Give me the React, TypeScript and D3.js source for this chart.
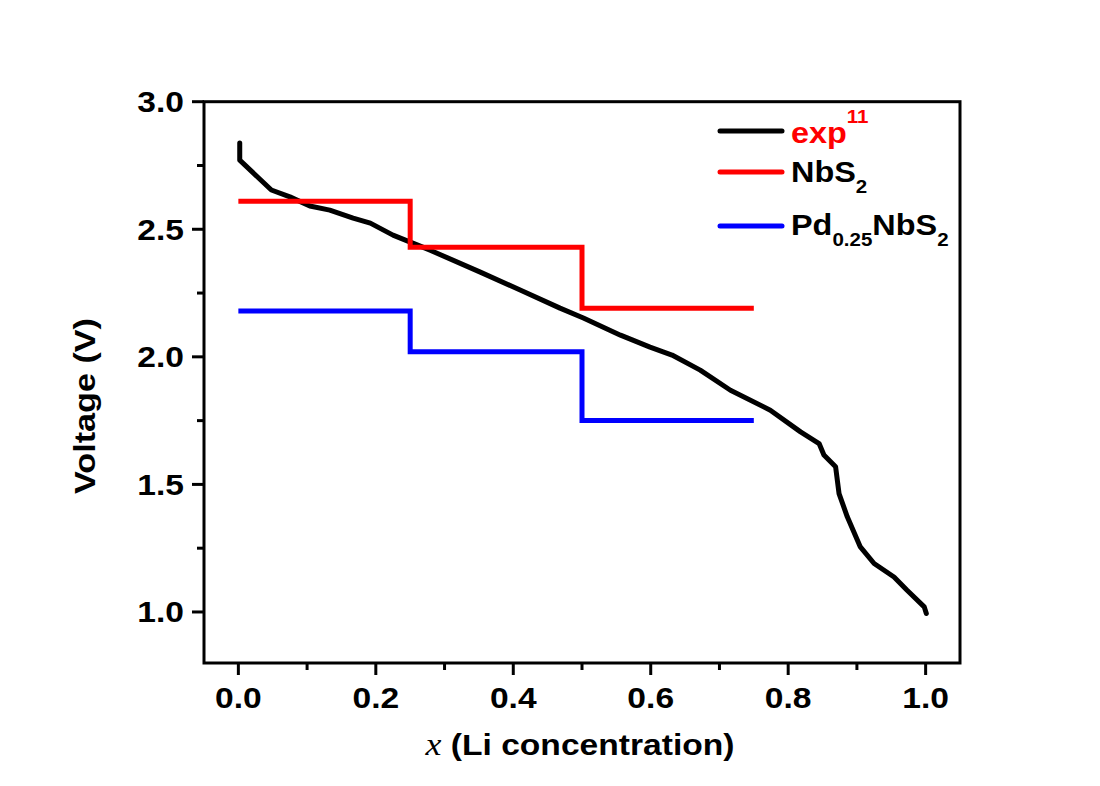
import React from 'react'
import * as d3 from 'd3'

// experimental curve (ref 11)
const expX = [0.002, 0.002, 0.048, 0.075, 0.104, 0.133, 0.167, 0.192, 0.225, 0.279, 0.352, 0.41, 0.468, 0.502, 0.556, 0.599, 0.631, 0.672, 0.716, 0.774, 0.818, 0.845, 0.852, 0.869, 0.874, 0.886, 0.905, 0.925, 0.954, 0.973, 0.998, 1.001]
const expV = [2.838, 2.771, 2.654, 2.627, 2.591, 2.575, 2.544, 2.524, 2.477, 2.418, 2.332, 2.262, 2.191, 2.152, 2.085, 2.038, 2.007, 1.948, 1.869, 1.791, 1.706, 1.66, 1.615, 1.569, 1.464, 1.373, 1.255, 1.19, 1.137, 1.085, 1.02, 0.994]

// calculated step voltages
const stepX = [0, 0.25, 0.5, 0.75]
const nbs2V = [2.61, 2.43, 2.19, 2.19]
const pdNbs2V = [2.18, 2.02, 1.75, 1.75]

const xTicks = [0, 0.2, 0.4, 0.6, 0.8, 1.0]
const yTicks = [1.0, 1.5, 2.0, 2.5, 3.0]

const W = 1100
const H = 786
const margin = { left: 204, right: 140, top: 101.7, bottom: 123 }
const font = 'Liberation Sans, Arial, sans-serif'
const SX = 1.12 // text in the original is a bit stretched sideways

export default function App() {
  const x = d3.scaleLinear().domain([-0.05, 1.05]).range([margin.left, W - margin.right])
  const y = d3.scaleLinear().domain([0.8, 3.0]).range([H - margin.bottom, margin.top])

  const line = d3.line<[number, number]>().x(d => x(d[0])).y(d => y(d[1]))
  const stepLine = d3.line<[number, number]>().x(d => x(d[0])).y(d => y(d[1])).curve(d3.curveStepAfter)

  const expPts = expX.map((v, i) => [v, expV[i]] as [number, number])
  const nbsPts = stepX.map((v, i) => [v, nbs2V[i]] as [number, number])
  const pdPts = stepX.map((v, i) => [v, pdNbs2V[i]] as [number, number])

  const xMinor = d3.range(0, 10).map(i => 0.1 + i * 0.2).filter(v => v < 1.05)
  const yMinor = d3.range(0, 9).map(i => 0.75 + i * 0.25).filter(v => v > 0.8 && v < 3 && v % 0.5 !== 0)

  const x0 = x.range()[0], x1 = x.range()[1]
  const y0 = y.range()[0], y1 = y.range()[1]

  const legend = [
    { color: '#000', y: 131 },
    { color: '#ff0000', y: 172 },
    { color: '#0000ff', y: 226 },
  ]

  return (
    <div style={{ position: 'absolute', left: 0, top: 0 }}>
      <svg width={W} height={H} style={{ display: 'block', background: '#fff' }}>
        {/* data */}
        <path d={line(expPts) || ''} fill="none" stroke="#000" strokeWidth={5} strokeLinejoin="round" strokeLinecap="round" />
        <path d={stepLine(nbsPts) || ''} fill="none" stroke="#ff0000" strokeWidth={5} />
        <path d={stepLine(pdPts) || ''} fill="none" stroke="#0000ff" strokeWidth={5} />

        {/* frame */}
        <rect x={x0} y={y1} width={x1 - x0} height={y0 - y1} fill="none" stroke="#000" strokeWidth={3} />

        {/* x ticks */}
        {xTicks.map(t => (
          <g key={'x' + t}>
            <line x1={x(t)} x2={x(t)} y1={y0} y2={y0 + 12} stroke="#000" strokeWidth={3} />
            <g transform={`translate(${x(t)}, ${y0 + 45}) scale(${SX}, 1)`}>
              <text textAnchor="middle" fontFamily={font} fontWeight="bold" fontSize={30}>{t.toFixed(1)}</text>
            </g>
          </g>
        ))}
        {xMinor.map(t => (
          <line key={'xm' + t} x1={x(t)} x2={x(t)} y1={y0} y2={y0 + 7} stroke="#000" strokeWidth={3} />
        ))}

        {/* y ticks */}
        {yTicks.map(t => (
          <g key={'y' + t}>
            <line x1={x0 - 12} x2={x0} y1={y(t)} y2={y(t)} stroke="#000" strokeWidth={3} />
            <g transform={`translate(${x0 - 20}, ${y(t) + 10.5}) scale(${SX}, 1)`}>
              <text textAnchor="end" fontFamily={font} fontWeight="bold" fontSize={30}>{t.toFixed(1)}</text>
            </g>
          </g>
        ))}
        {yMinor.map(t => (
          <line key={'ym' + t} x1={x0 - 7} x2={x0} y1={y(t)} y2={y(t)} stroke="#000" strokeWidth={3} />
        ))}

        {/* axis titles */}
        <g transform={`translate(580, 755) scale(${SX}, 1)`}>
          <text textAnchor="middle" fontFamily={font} fontWeight="bold" fontSize={30}>
            <tspan fontFamily="Liberation Serif, Times New Roman, serif" fontStyle="italic" fontWeight="normal" fontSize={32}>x</tspan>
            <tspan> (Li concentration)</tspan>
          </text>
        </g>
        <g transform={`translate(95, 406) rotate(-90) scale(${SX + 0.02}, 1)`}>
          <text textAnchor="middle" fontFamily={font} fontWeight="bold" fontSize={30}>Voltage (V)</text>
        </g>

        {/* legend */}
        {legend.map((l, i) => (
          <line key={'lg' + i} x1={720} x2={782} y1={l.y} y2={l.y} stroke={l.color} strokeWidth={5} strokeLinecap="round" />
        ))}
        <g transform={`translate(791, 0) scale(1.08, 1)`}>
          <text x={0} y={143} fontFamily={font} fontWeight="bold" fontSize={30} fill="#ff0000">
            exp<tspan fontSize={19} dy={-20}>11</tspan>
          </text>
          <text x={0} y={182} fontFamily={font} fontWeight="bold" fontSize={30}>
            NbS<tspan fontSize={19} dy={11}>2</tspan>
          </text>
          <text x={0} y={235} fontFamily={font} fontWeight="bold" fontSize={30}>
            Pd<tspan fontSize={19} dy={11}>0.25</tspan><tspan dy={-11}>NbS</tspan><tspan fontSize={19} dy={11}>2</tspan>
          </text>
        </g>
      </svg>
    </div>
  )
}
